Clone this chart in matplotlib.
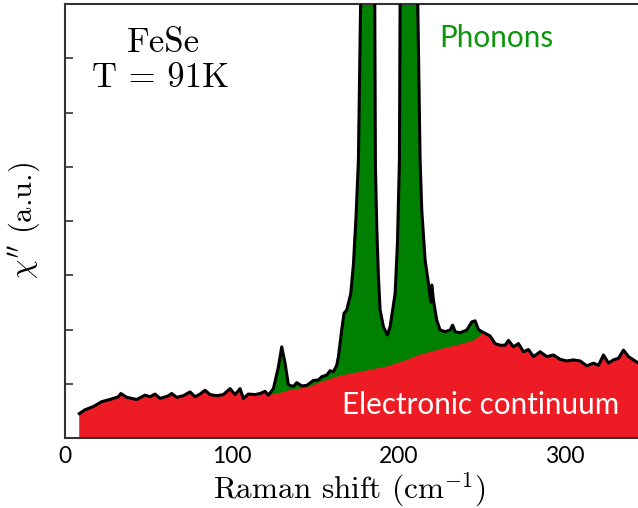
import numpy as np
import matplotlib
matplotlib.use("Agg")
import matplotlib.pyplot as plt

plt.rcParams['mathtext.fontset'] = 'cm'

# ---- measured spectrum (Raman shift in cm-1, chi'' in a.u.) ----
shift = [8.6, 12, 17, 22, 27, 32, 33.5, 37, 43, 48, 51, 54, 57, 61.5, 64, 67, 71, 75,
         78, 81, 84, 87, 91, 95, 99, 102, 105, 107, 110, 114, 117, 120, 122, 125, 128,
         130, 132, 134, 137, 139, 142, 145, 149, 152, 154, 157, 159, 161, 163, 164, 166,
         167.4, 169, 171.4, 173, 174.6, 176, 177.3, 181.5, 185.8, 186.2, 187, 188, 189,
         191, 193.4, 195, 198, 199.4, 200.6, 201, 206.5, 211.6, 213, 214, 216, 218, 219.4,
         220, 221, 223, 225, 228, 231, 232.5, 234, 237, 241, 244, 246, 248, 250, 252,
         255, 258, 261, 264, 266, 269, 272, 275, 278, 281, 285, 289, 293, 297, 301, 305,
         309, 313, 317, 320, 323, 326, 329, 332, 335, 338, 341, 344]
chi = [0.45, 0.52, 0.58, 0.67, 0.71, 0.76, 0.82, 0.75, 0.71, 0.79, 0.76, 0.81, 0.73, 0.77,
       0.82, 0.75, 0.78, 0.85, 0.76, 0.81, 0.88, 0.80, 0.78, 0.80, 0.91, 0.80, 0.91, 0.73,
       0.81, 0.80, 0.82, 0.86, 0.79, 0.91, 1.31, 1.68, 1.38, 0.98, 0.95, 1.02, 0.96, 0.97,
       1.06, 1.07, 1.13, 1.16, 1.24, 1.22, 1.34, 1.50, 2.00, 2.30, 2.36, 2.66, 3.20, 4.10,
       5.12, 8.0, 12.0, 8.0, 5.0, 3.89, 2.97, 2.36, 2.05, 1.90, 2.05, 2.66, 3.58, 5.12, 8.0,
       12.0, 8.0, 5.12, 4.2, 3.28, 2.85, 2.50, 2.82, 2.54, 2.17, 1.99, 1.96, 1.99, 2.08,
       1.96, 1.94, 1.99, 2.14, 2.16, 2.00, 1.96, 1.93, 1.88, 1.74, 1.71, 1.71, 1.80, 1.68,
       1.74, 1.59, 1.63, 1.50, 1.59, 1.50, 1.53, 1.45, 1.42, 1.44, 1.42, 1.33, 1.38, 1.34,
       1.53, 1.38, 1.44, 1.47, 1.62, 1.50, 1.44, 1.38]

# ---- electronic continuum underneath the phonon lines ----
cont_shift = [121, 125, 130, 134, 137, 140, 145, 150, 153, 155, 160, 165, 180, 193, 205,
              213, 225, 237, 245, 250.5]
cont_chi = [0.79, 0.82, 0.85, 0.89, 0.91, 0.92, 0.94, 1.00, 1.04, 1.06, 1.11, 1.16, 1.25,
            1.33, 1.45, 1.55, 1.65, 1.74, 1.81, 1.94]

x_ticks = [0, 100, 200, 300]
y_ticks = [1, 2, 3, 4, 5, 6, 7]

red = '#ed1c24'
green = '#008000'

shift = np.array(shift)
chi = np.array(chi)
lo = shift < cont_shift[0]
hi = shift > cont_shift[-1]
red_x = np.concatenate([shift[lo], cont_shift, shift[hi]])
red_y = np.concatenate([chi[lo], cont_chi, chi[hi]])

fig = plt.figure(figsize=(6.38, 5.08), dpi=100)
ax = fig.add_axes([65 / 638, 1 - 438 / 508, 1 - 65 / 638, (438 - 4) / 508])

ax.fill_between(shift, 0, chi, color=green, lw=0, zorder=1)
ax.fill_between(red_x, 0, red_y, color=red, lw=0, zorder=2)
ax.plot(shift, chi, color='black', lw=2.2, zorder=3, solid_joinstyle='round')

ax.set_xlim(0, 343.7)
ax.set_ylim(0, 8)
ax.set_xticks(x_ticks)
ax.set_xticklabels([str(t) for t in x_ticks], fontfamily='Lato', fontsize=16.5)
ax.set_yticks(y_ticks)
ax.set_yticklabels([])
ax.tick_params(axis='x', length=0, pad=6)
ax.tick_params(axis='y', direction='in', length=6, width=1.2, color='#333333')
ax.spines['right'].set_visible(False)
for s in ['left', 'bottom', 'top']:
    ax.spines[s].set_linewidth(1.5)
    ax.spines[s].set_color('#333333')

serif = 'cmr10'
ax.set_xlabel('Raman shift (cm$^{-1}$)', fontfamily=serif, fontsize=22.5)
ax.xaxis.set_label_coords(0.497, -0.074)
ax.set_ylabel(r"$\chi''$ (a.u.)", fontfamily=serif, fontsize=22)
ax.yaxis.set_label_coords(-0.04, 0.5)

ax.text(58.8, 7.27, 'FeSe', fontfamily=serif, fontsize=25, ha='center', va='center')
ax.text(57.5, 6.63, 'T = 91K', fontfamily=serif, fontsize=25, ha='center', va='center')
ax.text(259, 7.37, 'Phonons', color='#0c960c', fontfamily='Lato', fontsize=21.3,
        ha='center', va='center')
ax.text(249, 0.61, 'Electronic continuum', color='white', fontfamily='Lato',
        fontsize=21.3, ha='center', va='center', zorder=4)

fig.savefig('out.png', dpi=100)
